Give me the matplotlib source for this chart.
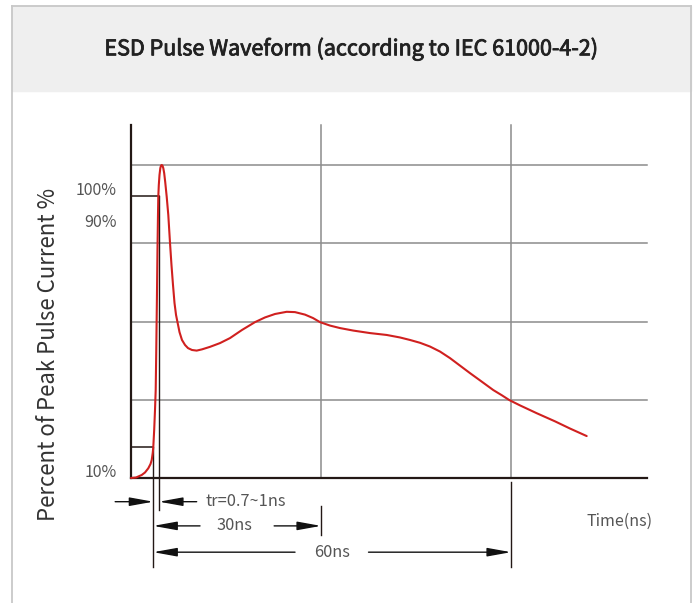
import matplotlib.pyplot as plt
import matplotlib.patches as patches
import matplotlib.patheffects as pe

plt.rcParams['font.family'] = ['Noto Sans CJK SC', 'DejaVu Sans']

# ESD waveform (time in ns, current in % of peak)
time_ns = [0, 0.79, 1.69, 2.21, 2.73, 3.08, 3.27, 3.43, 3.52, 3.66, 3.79, 3.90, 3.99,
           4.09, 4.18, 4.26, 4.31, 4.39, 4.50, 4.63, 4.74, 4.85, 4.97, 5.10, 5.24,
           5.40, 5.64, 5.89, 6.16, 6.39, 6.63, 6.87, 7.11, 7.37, 7.66, 8.05, 8.53,
           9.00, 9.63, 10.37, 11.21, 12.47, 14.05, 15.63, 17.53, 19.58, 21.16, 22.74,
           24.58, 25.89, 27.47, 28.74, 29.84, 31.42, 33.0, 35.1, 37.74, 40.37, 42.47,
           44.05, 45.63, 47.21, 48.79, 50.37, 51.95, 53.53, 55.1, 57.2, 58.58, 59.73,
           61.42, 64.06, 66.95, 69.32, 71.95]
current_pct = [0, 0.16, 0.96, 1.76, 3.10, 4.47, 5.75, 7.99, 9.90, 15.3, 21.7, 28.1, 40.9,
               56.9, 72.8, 84.0, 89.8, 93.6, 96.8, 99.0, 99.8, 100, 99.8, 99.0, 97.4,
               94.6, 89.8, 84.0, 75.1, 68.1, 61.7, 55.9, 52.1, 49.5, 46.6, 44.1, 42.5,
               41.5, 40.9, 40.7, 41.1, 41.9, 43.1, 44.7, 47.3, 49.8, 51.3, 52.4,
               53.1, 53.0, 52.2, 51.1, 49.8, 48.7, 47.9, 47.1, 46.3, 45.7, 44.9,
               44.1, 43.2, 42.0, 40.4, 38.3, 35.9, 33.5, 31.2, 28.1, 26.4, 24.9,
               23.2, 20.7, 18.1, 15.8, 13.4]

grid_levels = [25, 50, 75, 100]
grid_times = [30, 60]
x_end = 81.5
y_top = 112.8

level_labels = ['100%', '90%', '10%']
level_label_y = [92.0, 81.5, 1.8]

rise_time, ten_time, ninety_time = 3.52, 3.52, 4.42

fig = plt.figure(figsize=(6.97, 6.03), dpi=100)

# frame and title band
fig.patches.append(patches.Rectangle((12 / 697, 1 - 90.7 / 603), 679 / 697, 85 / 603,
                                     transform=fig.transFigure, color='#efefef', zorder=0))
fig.add_artist(plt.Line2D([11.7 / 697, 11.7 / 697], [0, 1 - 5.7 / 603], color='#c8c8c8', lw=1.3))
fig.add_artist(plt.Line2D([691 / 697, 691 / 697], [0, 1 - 5.7 / 603], color='#c8c8c8', lw=1.3))
fig.add_artist(plt.Line2D([11.7 / 697, 691 / 697], [1 - 5.7 / 603, 1 - 5.7 / 603], color='#c8c8c8', lw=1.3))
fig.text(351 / 697, 1 - 49 / 603, 'ESD Pulse Waveform (according to IEC 61000-4-2)',
         ha='center', va='center', fontsize=15.5, color='#222222',
         path_effects=[pe.withStroke(linewidth=0.6, foreground='#222222')])

ax = fig.add_axes([0, 0, 1, 1])
ax.set_xlim(-131 / 6.3333, (697 - 131) / 6.3333)
ax.set_ylim(-(603 - 478) / 3.13, 478 / 3.13)
ax.axis('off')
ax.patch.set_alpha(0)

grid_c = '#8c8c8c'
for lv in grid_levels:
    ax.plot([0, x_end], [lv, lv], color=grid_c, lw=1.1, zorder=1)
for gt in grid_times:
    ax.plot([gt, gt], [0, y_top], color=grid_c, lw=1.1, zorder=1)

# axes
ax.plot([0, 0], [0, y_top], color='#231815', lw=1.6, zorder=3)
ax.plot([0, x_end], [0, 0], color='#231815', lw=1.6, zorder=3)

# 90% / 10% markers
ax.plot([0, ninety_time], [90, 90], color='#231815', lw=1.1, zorder=2)
ax.plot([0, ten_time], [10, 10], color='#231815', lw=1.1, zorder=2)
ax.plot([ten_time, ten_time], [10, -28.4], color='#231815', lw=1.0, zorder=2)
ax.plot([ninety_time, ninety_time], [90, -10.2], color='#231815', lw=1.0, zorder=2)
ax.plot([30, 30], [-8.85, -18.2], color='#231815', lw=1.0)
ax.plot([60, 60], [-1.2, -28.3], color='#231815', lw=1.0)

ax.plot(time_ns, current_pct, color='#d0201f', lw=1.5, zorder=4,
        solid_joinstyle='round', solid_capstyle='round')

arrow_kw = dict(arrowstyle='-|>,head_length=1.44,head_width=0.26', mutation_scale=10,
                shrinkA=0, shrinkB=0, lw=1.0, color='#111111')


def dim_arrow(tail, tip, y):
    ax.annotate('', xy=(tip, y), xytext=(tail, y), arrowprops=arrow_kw)


txt_c = '#555555'
# tr
dim_arrow(-2.5, rise_time, -7.57)
dim_arrow(10.37, ninety_time, -7.57)
ax.text(11.8, -7.57, 'tr=0.7~1ns', ha='left', va='center', fontsize=11.8, color=txt_c)
# 30ns
dim_arrow(10.9, rise_time, -15.3)
dim_arrow(22.6, 30, -15.3)
ax.text(16.4, -15.3, '30ns', ha='center', va='center', fontsize=11.8, color=txt_c)
# 60ns
dim_arrow(25.9, rise_time, -23.7)
dim_arrow(37.5, 60, -23.7)
ax.text(31.8, -23.7, '60ns', ha='center', va='center', fontsize=11.8, color=txt_c)

ax.text(77.2, -13.96, 'Time(ns)', ha='center', va='center', fontsize=11.5, color=txt_c)

for lab, yy in zip(level_labels, level_label_y):
    ax.text(-2.2, yy, lab, ha='right', va='center', fontsize=11.5, color=txt_c)

ax.text(-13.1, 39.6, 'Percent of Peak Pulse Current %', rotation=90, ha='center',
        va='center', fontsize=16, color='#333333')

fig.savefig('out.png', dpi=100)
